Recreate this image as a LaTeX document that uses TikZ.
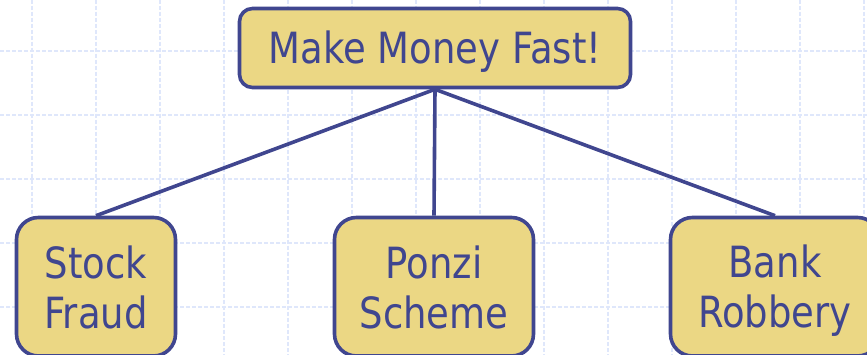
\documentclass[tikz,border=0pt]{standalone}
\usepackage{fontspec}
\setmainfont[FakeStretch=0.86]{DejaVu Sans}
\definecolor{ink}{HTML}{40468F}
\definecolor{boxfill}{HTML}{EBD784}
\definecolor{gridc}{HTML}{DFE7FB}
\newcommand\topstrut{\rule{0pt}{40pt}}
\newcommand\botstrut{\rule[-5pt]{0pt}{5pt}}
\newcommand\leafstrut{\rule[-7.5pt]{0pt}{7.5pt}}
\begin{document}
\begin{tikzpicture}[x=1pt,y=-1pt,
  gridline/.style={draw=gridc,line width=1.1pt,dash pattern=on 4pt off 2pt},
  box/.style={draw=ink,fill=boxfill,line width=3.6pt,text=ink,align=center,
    inner sep=0pt,font=\fontsize{43}{50}\selectfont},
  topbox/.style={box,rounded corners=13pt,minimum width=391pt,minimum height=79pt},
  leafbox/.style={box,rounded corners=22pt,minimum height=138.5pt},
  link/.style={draw=ink,line width=3.6pt}]
\useasboundingbox (0,0) rectangle (867,355);
\fill[white] (0,0) rectangle (867,355);
\foreach \x in {32,96,...,864} \draw[gridline] (\x,0) -- (\x,355);
\foreach \y in {51,115,...,307} \draw[gridline] (0,\y) -- (867,\y);
\node[topbox] (top) at (435,48) {\topstrut Make Money Fast!\botstrut};
\node[leafbox,minimum width=159pt] (stock) at (96,286.75) {\topstrut Stock\\Fraud\leafstrut};
\node[leafbox,minimum width=199pt] (ponzi) at (434,286.75) {\topstrut Ponzi\\Scheme\leafstrut};
\node[leafbox,minimum width=209pt] (bank) at (775,286.75) {\topstrut Bank\\Robbery\leafstrut};
\draw[link] (top.south) -- (stock.north);
\draw[link] (top.south) -- (ponzi.north);
\draw[link] (top.south) -- (bank.north);
\end{tikzpicture}
\end{document}
